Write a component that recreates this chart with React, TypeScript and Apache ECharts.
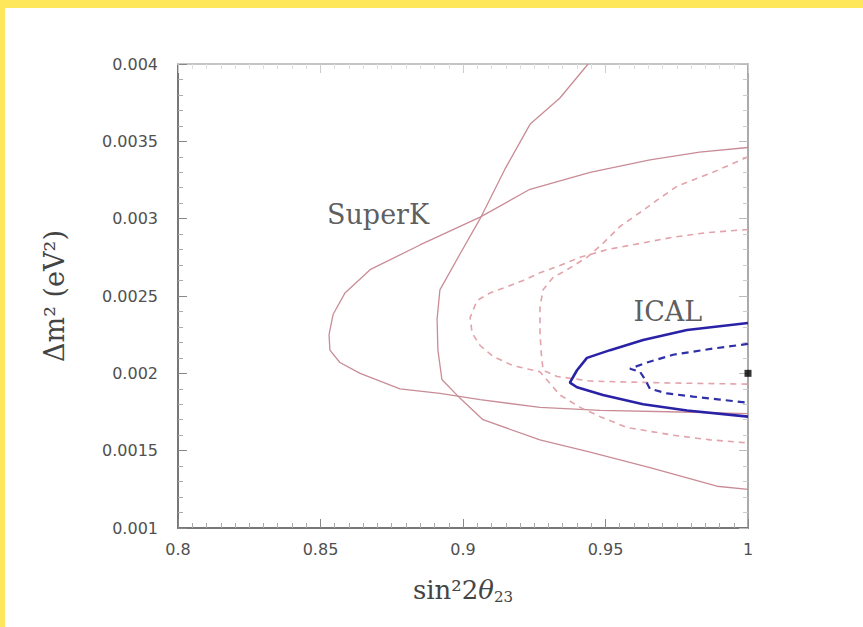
import React, { useEffect, useRef } from "react";
import * as echarts from "echarts";

// sin^2 2theta range and Δm^2 range
const xTicks = [0.8, 0.85, 0.9, 0.95, 1];
const yTicks = [0.001, 0.0015, 0.002, 0.0025, 0.003, 0.0035, 0.004];

// SuperK solid contour (wide nose)
const superKSolid: [number, number][] = [
  [1.0, 0.00346], [0.983, 0.00343], [0.9656, 0.00338], [0.9446, 0.0033], [0.9235, 0.00319],
  [0.906, 0.00301], [0.8849, 0.00283], [0.8674, 0.00267], [0.8586, 0.00252], [0.8544, 0.00238],
  [0.853, 0.00225], [0.8533, 0.00215], [0.8568, 0.00207], [0.8639, 0.002], [0.8779, 0.0019],
  [0.8919, 0.00187], [0.906, 0.00183], [0.927, 0.00178], [0.9481, 0.00176], [0.9761, 0.00175],
  [1.0, 0.00174],
];

// second solid contour (steep one)
const otherSolid: [number, number][] = [
  [0.9439, 0.004], [0.934, 0.00378], [0.9235, 0.00361], [0.9147, 0.00332], [0.906, 0.003],
  [0.8989, 0.00277], [0.8919, 0.00254], [0.8909, 0.00235], [0.8912, 0.00215], [0.8926, 0.00196],
  [0.8989, 0.00184], [0.907, 0.0017], [0.927, 0.00157], [0.9446, 0.00149], [0.9656, 0.00139],
  [0.9891, 0.00127], [1.0, 0.00125],
];

// dashed pink contours
const dashedOuter: [number, number][] = [
  [1, 0.0034], [0.9877, 0.0033], [0.9751, 0.00321], [0.9681, 0.00312], [0.9621, 0.00304],
  [0.9551, 0.00295], [0.9491, 0.00284], [0.9435, 0.00275], [0.9365, 0.00267], [0.9316, 0.00262],
  [0.9281, 0.00254], [0.927, 0.00243], [0.927, 0.00228], [0.9274, 0.00214], [0.9281, 0.00202],
  [0.933, 0.00198], [0.9446, 0.00195], [0.9656, 0.00194], [1, 0.00193],
];

const dashedInner: [number, number][] = [
  [1, 0.00293], [0.9856, 0.00291], [0.9737, 0.00288], [0.9621, 0.00284], [0.9505, 0.0028],
  [0.9411, 0.00275], [0.933, 0.00269], [0.927, 0.00265], [0.9211, 0.0026], [0.9154, 0.00256],
  [0.9095, 0.00252], [0.9049, 0.00247], [0.9025, 0.00236], [0.9032, 0.00226], [0.906, 0.00218],
  [0.9105, 0.00211], [0.9175, 0.00205], [0.927, 0.00201], [0.934, 0.00186], [0.9411, 0.00178],
  [0.9481, 0.00172], [0.9575, 0.00165], [0.9737, 0.0016], [0.9867, 0.00157], [1, 0.00155],
];

// ICAL contours
const icalSolid: [number, number][] = [
  [1, 0.002325], [0.9786, 0.00228], [0.9632, 0.002216], [0.9516, 0.00215], [0.9435, 0.0021],
  [0.94, 0.00202], [0.9375, 0.00194], [0.94, 0.00191], [0.9491, 0.00186], [0.9632, 0.0018],
  [0.9786, 0.00176], [1, 0.00172],
];

const icalDashed: [number, number][] = [
  [1, 0.00219], [0.9877, 0.00216], [0.9737, 0.00212], [0.9646, 0.00207], [0.9586, 0.00203],
  [0.9621, 0.00201], [0.9639, 0.00196], [0.9656, 0.0019], [0.9716, 0.00187], [0.9807, 0.00185],
  [0.9902, 0.00183], [1, 0.00181],
];

const bestFit: [number, number][] = [[1, 0.002]];

const labelPoints: { name: string; value: [number, number] }[] = [
  { name: "SuperK", value: [0.8702, 0.003024] },
  { name: "ICAL", value: [0.9719, 0.002397] },
];

export default function App() {
  const ref = useRef<HTMLDivElement>(null);

  useEffect(() => {
    if (!ref.current) return;
    const chart = echarts.init(ref.current, null, { renderer: "svg" });
    const tickLabel = {
      fontFamily: "DejaVu Sans",
      fontSize: 16,
      color: "#505050",
    };
    const pinkSolid = { color: "#c98c96", width: 1.3 };
    const pinkDash = { color: "#e2a3ab", width: 1.6, type: [6, 5] as any };
    const line = (data: [number, number][], lineStyle: any, z = 2) => ({
      type: "line",
      data,
      showSymbol: false,
      symbol: "none",
      lineStyle,
      z,
      silent: true,
    });

    chart.setOption({
      animation: false,
      backgroundColor: "#ffffff",
      graphic: [
        { type: "rect", shape: { x: 0, y: 0, width: 863, height: 8 }, style: { fill: "#FFE75C" }, z: 100 },
        { type: "rect", shape: { x: 0, y: 0, width: 5, height: 627 }, style: { fill: "#FFE75C" }, z: 100 },
      ],
      grid: { left: 178, top: 64, right: 115, bottom: 99, containLabel: false },
      xAxis: [
        {
          type: "value",
          min: xTicks[0],
          max: xTicks[xTicks.length - 1],
          interval: 0.05,
          position: "bottom",
          name: "{n|sin²2}{t|θ}{s|23}",
          nameLocation: "middle",
          nameGap: 47,
          nameTextStyle: {
            rich: {
              n: { fontFamily: "DejaVu Serif", fontSize: 26, color: "#444" },
              t: { fontFamily: "DejaVu Serif", fontStyle: "italic", fontSize: 26, color: "#444" },
              s: { fontFamily: "DejaVu Serif", fontSize: 15, color: "#444", padding: [14, 0, 0, 0] },
            },
          },
          axisLine: { show: true, lineStyle: { color: "#777", width: 2 } },
          axisTick: { show: true, inside: true, length: 9, lineStyle: { color: "#888" } },
          minorTick: { show: true, splitNumber: 10, length: 5, lineStyle: { color: "#aaa" } },
          splitLine: { show: false },
          axisLabel: { ...tickLabel, margin: 13, formatter: (v: number) => String(+v.toFixed(3)) },
        },
        {
          type: "value",
          min: xTicks[0],
          max: xTicks[xTicks.length - 1],
          interval: 0.05,
          position: "top",
          axisLine: { show: true, lineStyle: { color: "#c4c4c4", width: 2 } },
          axisTick: { show: true, inside: true, length: 9, lineStyle: { color: "#ccc" } },
          minorTick: { show: true, splitNumber: 10, length: 5, lineStyle: { color: "#ddd" } },
          splitLine: { show: false },
          axisLabel: { show: false },
        },
      ],
      yAxis: [
        {
          type: "value",
          min: yTicks[0],
          max: yTicks[yTicks.length - 1],
          interval: 0.0005,
          position: "left",
          name: "Δm² (eV²)",
          nameLocation: "middle",
          nameRotate: 90,
          nameGap: 110,
          nameTextStyle: { fontFamily: "DejaVu Serif", fontSize: 27, color: "#444" },
          axisLine: { show: true, lineStyle: { color: "#777", width: 2 } },
          axisTick: { show: true, inside: true, length: 9, lineStyle: { color: "#888" } },
          minorTick: { show: true, splitNumber: 5, length: 5, lineStyle: { color: "#aaa" } },
          splitLine: { show: false },
          axisLabel: { ...tickLabel, margin: 20, formatter: (v: number) => String(+v.toFixed(4)) },
        },
        {
          type: "value",
          min: yTicks[0],
          max: yTicks[yTicks.length - 1],
          interval: 0.0005,
          position: "right",
          axisLine: { show: true, lineStyle: { color: "#aaa", width: 2 } },
          axisTick: { show: true, inside: true, length: 9, lineStyle: { color: "#bbb" } },
          minorTick: { show: true, splitNumber: 5, length: 5, lineStyle: { color: "#ccc" } },
          splitLine: { show: false },
          axisLabel: { show: false },
        },
      ],
      series: [
        line(superKSolid, pinkSolid),
        line(otherSolid, pinkSolid),
        line(dashedOuter, pinkDash),
        line(dashedInner, pinkDash),
        line(icalSolid, { color: "#2a22a6", width: 2.6 }, 4),
        line(icalDashed, { color: "#2f2fa8", width: 2.2, type: [7, 5] }, 4),
        {
          type: "scatter",
          data: bestFit,
          symbol: "rect",
          symbolSize: 7,
          itemStyle: { color: "#000" },
          clip: false,
          z: 5,
          silent: true,
        },
        {
          type: "scatter",
          data: labelPoints,
          symbolSize: 0,
          silent: true,
          label: {
            show: true,
            position: "inside",
            formatter: (p: any) => p.name,
            fontFamily: "DejaVu Serif",
            fontSize: 27,
            color: "#333",
          },
          z: 6,
        },
      ],
    });
    return () => chart.dispose();
  }, []);

  return (
    <div
      ref={ref}
      style={{ position: "absolute", left: 0, top: 0, width: 863, height: 627 }}
    />
  );
}
